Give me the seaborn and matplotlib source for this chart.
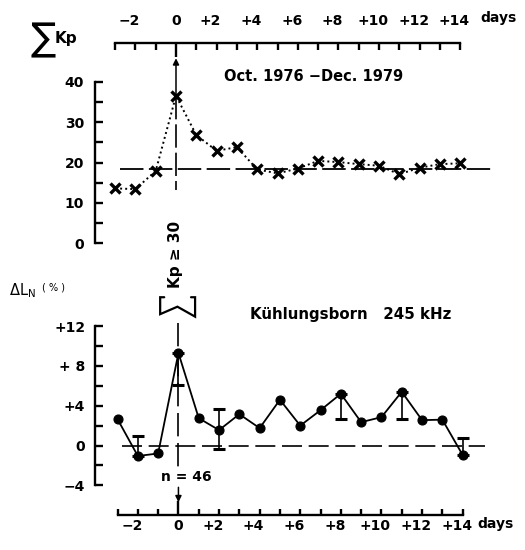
import matplotlib
matplotlib.use("Agg")
import matplotlib.pyplot as plt
import matplotlib.transforms as mtransforms
import seaborn as sns
import pandas as pd

# Superposed epoch analysis around geomagnetic storm days (day 0: Kp >= 30)
days = list(range(-3, 15))
sum_kp = [13.6, 13.4, 17.9, 36.5, 26.8, 22.9, 23.8, 18.3, 17.3, 18.5,
          20.4, 20.1, 19.6, 19.2, 17.1, 18.7, 19.6, 19.8]
kp_mean = 18.4

delta_ln = [2.65, -1.05, -0.8, 9.3, 2.75, 1.55, 3.15, 1.75, 4.6, 2.0,
            3.55, 5.2, 2.35, 2.85, 5.4, 2.55, 2.6, -0.95]
err_days = [-2, 0, 2, 8, 11, 14]
err_low = [0.0, 3.2, 1.85, 2.5, 2.75, 0.0]
err_high = [2.0, 0.0, 2.1, 0.0, 0.0, 1.75]

day_ticks = list(range(-3, 15))
day_labels = ["" if d % 2 else ("0" if d == 0 else ("\u2212" + str(-d) if d < 0 else "+" + str(d))) for d in day_ticks]
kp_yticks = [0, 10, 20, 30, 40]
ln_yticks = [-4, 0, 4, 8, 12]
ln_ylabels = ["\u22124", "0", "+4", "+ 8", "+12"]

sns.set_style("white")
plt.rcParams["font.family"] = ["DejaVu Sans"]
plt.rcParams["font.weight"] = "bold"
plt.rcParams["mathtext.default"] = "regular"
for key in ["text.color", "axes.labelcolor", "xtick.color", "ytick.color"]:
    plt.rcParams[key] = "black"

W, H = 525, 550
fig = plt.figure(figsize=(W / 100, H / 100), dpi=100)


def fx(px):
    return px / W


def fy(py):
    return 1 - py / H


def shift_signed_labels(ax):
    # signed day labels: keep the numeral over the tick, sign hanging left
    off = mtransforms.ScaledTranslation(-6 / 100, 0, fig.dpi_scale_trans)
    for lab in ax.get_xticklabels():
        if lab.get_text()[:1] in ("+", "\u2212"):
            lab.set_transform(lab.get_transform() + off)


LW = 1.7
FS = 10

# ---------------- upper panel: sum of Kp ----------------
ax1 = fig.add_axes([fx(95), fy(247.3), fx(405), (247.3 - 43) / H])
df_kp = pd.DataFrame({"day": days, "kp": sum_kp})
sns.lineplot(data=df_kp, x="day", y="kp", ax=ax1, color="black",
             linewidth=1.4, marker="x", markersize=7, markeredgewidth=2.4,
             markeredgecolor="black", dashes=False,
             estimator=None, sort=False)
for ln in ax1.get_lines():
    ln.set_linestyle((0, (1, 1.6)))
ax1.hlines(kp_mean, -2.76, 15.6, color="black", linewidth=1.3,
           linestyles=(0, (13, 3)))
ax1.set_xlim(-3.99, 15.96)
ax1.set_ylim(-0.99, 49.58)
for s in ["right", "bottom"]:
    ax1.spines[s].set_visible(False)
ax1.spines["left"].set_bounds(0, 40)
ax1.spines["top"].set_bounds(-3, 14)
for s in ["left", "top"]:
    ax1.spines[s].set_linewidth(LW)
    ax1.spines[s].set_color("black")
ax1.xaxis.tick_top()
ax1.set_xticks(day_ticks)
ax1.set_xticklabels(day_labels)
ax1.set_yticks(kp_yticks)
ax1.set_yticks([5, 15, 25, 35], minor=True)
ax1.tick_params(axis="x", direction="in", length=5, width=LW, pad=11,
                labelsize=FS, top=True, bottom=False, color="black")
ax1.tick_params(axis="y", which="both", direction="in", length=6, width=LW,
                pad=8, labelsize=FS, left=True, color="black")
ax1.set_xlabel("")
ax1.set_ylabel("")
for t in ax1.xaxis.get_major_ticks():
    if t.get_loc() == 0:
        t.tick2line.set_markersize(10)
shift_signed_labels(ax1)

# epoch marker: arrow up from the peak, dashed line down
ax1.annotate("", xy=(0, 45.8), xytext=(0, sum_kp[days.index(0)] + 0.5),
             arrowprops=dict(arrowstyle="-|>", color="black", lw=1.1,
                             mutation_scale=9, shrinkA=0, shrinkB=0))
ax1.plot([0, 0], [sum_kp[days.index(0)], 13.2], color="black", lw=1.2,
         dashes=(14, 3))

# ---------------- lower panel: delta L_N ----------------
ax2 = fig.add_axes([fx(95), fy(514.7), fx(405), (514.7 - 306) / H])
ax2.hlines(0, -2.78, 15.1, color="black", linewidth=1.2,
           linestyles=(0, (12, 4)))
ax2.plot([0, 0], [12.3, -2.2], color="black", lw=1.2, dashes=(14, 4),
         clip_on=False)
ax2.errorbar(err_days, [delta_ln[days.index(d)] for d in err_days],
             yerr=[err_low, err_high], fmt="none", ecolor="black",
             elinewidth=1.2, capsize=4.5, capthick=2.2, zorder=2)
df_ln = pd.DataFrame({"day": days, "dln": delta_ln})
sns.lineplot(data=df_ln, x="day", y="dln", ax=ax2, color="black",
             linewidth=1.3, marker="o", markersize=6.5, markeredgewidth=0.8,
             markerfacecolor="black", markeredgecolor="black",
             estimator=None, sort=False, zorder=3)
ax2.set_xlim(-4.11, 15.84)
ax2.set_ylim(-6.95, 14.02)
for s in ["right", "top"]:
    ax2.spines[s].set_visible(False)
ax2.spines["left"].set_bounds(-4, 12)
ax2.spines["bottom"].set_bounds(-3, 14)
for s in ["left", "bottom"]:
    ax2.spines[s].set_linewidth(LW)
    ax2.spines[s].set_color("black")
ax2.set_xticks(day_ticks)
ax2.set_xticklabels(day_labels)
ax2.set_yticks(ln_yticks)
ax2.set_yticklabels(ln_ylabels)
ax2.set_yticks([-2, 2, 6, 10], minor=True)
ax2.tick_params(axis="x", direction="in", length=4, width=LW, pad=3,
                labelsize=FS, bottom=True, color="black")
ax2.tick_params(axis="y", which="both", direction="in", length=6, width=LW,
                pad=7, labelsize=FS, left=True, color="black")
ax2.set_xlabel("")
ax2.set_ylabel("")
for t in ax2.xaxis.get_major_ticks():
    if t.get_loc() == 0:
        t.tick1line.set_markersize(10)
shift_signed_labels(ax2)

ax2.annotate("", xy=(0, -5.7), xytext=(0, -4.2),
             arrowprops=dict(arrowstyle="-|>", color="black", lw=1.1,
                             mutation_scale=9, shrinkA=0, shrinkB=0),
             annotation_clip=False)
ax2.text(0.4, -3.15, "n = 46", ha="center", va="center", fontsize=FS,
         fontweight="bold")

# bracket beneath the Kp >= 30 label
bx = [-0.7, -0.9, -0.9, -0.05, 0.82, 0.82, 0.62]
by = [14.9, 14.9, 13.2, 13.95, 12.95, 14.9, 14.9]
ax2.plot(bx, by, color="black", lw=1.6, clip_on=False,
         solid_joinstyle="miter")

# ---------------- labels ----------------
fig.text(fx(175.5), fy(254), "Kp \u2265 30", rotation=90, ha="center",
         va="center", fontsize=11, fontweight="bold")
fig.text(fx(314), fy(76.5), "Oct. 1976 \u2212Dec. 1979", ha="center",
         va="center", fontsize=10.5, fontweight="bold")
fig.text(fx(351), fy(315), "K\u00fchlungsborn   245 kHz", ha="center",
         va="center", fontsize=10.8, fontweight="bold")
fig.text(fx(480), fy(18), "days", ha="left", va="center", fontsize=FS,
         fontweight="bold")
fig.text(fx(477), fy(524), "days", ha="left", va="center", fontsize=FS,
         fontweight="bold")
fig.text(fx(31), fy(40), "\u2211", ha="left", va="center", fontsize=27,
         fontweight="normal", family=["DejaVu Sans"])
fig.text(fx(55), fy(38), "Kp", ha="left", va="center", fontsize=11,
         fontweight="bold")
fig.text(fx(9), fy(291), r"$\Delta$L$_N$", ha="left", va="center",
         fontsize=10.5, fontweight="normal")
fig.text(fx(42), fy(287), "( % )", ha="left", va="center", fontsize=7,
         fontweight="normal")

fig.savefig("out.png", dpi=100, facecolor="white")
